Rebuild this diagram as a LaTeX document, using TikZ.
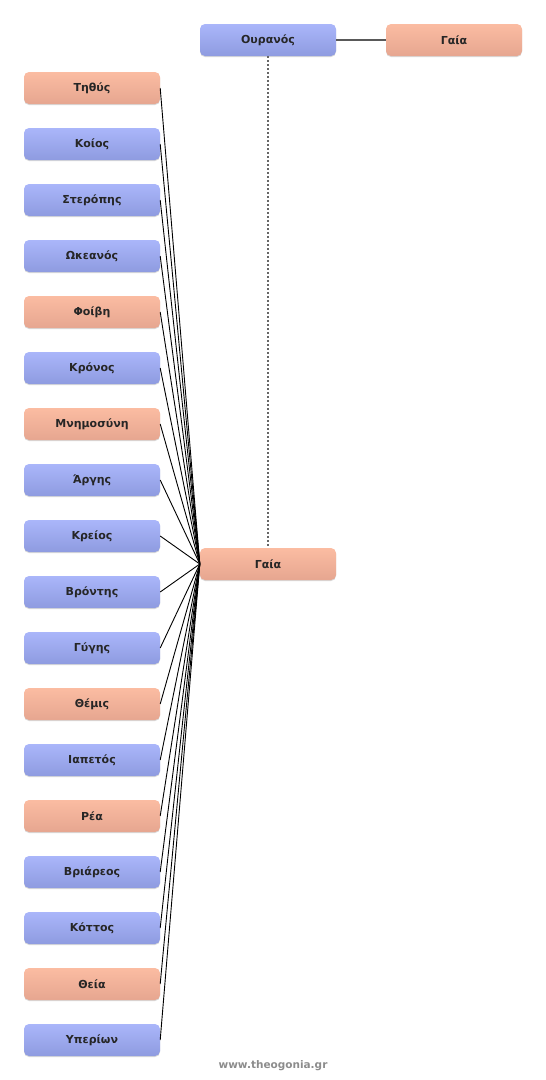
\documentclass[tikz,border=0pt]{standalone}
\usepackage{fontspec}
\setmainfont{DejaVu Sans}
\usetikzlibrary{shadows}
\definecolor{btop}{HTML}{AAB6FA}
\definecolor{bbot}{HTML}{8E9BE0}
\definecolor{otop}{HTML}{FBBCA2}
\definecolor{obot}{HTML}{E6A690}
\tikzset{
  person/.style={rounded corners=5pt, minimum width=136pt, minimum height=32pt, inner sep=0pt,
    font=\bfseries\fontsize{11}{13}\selectfont, text=black!85,
    drop shadow={shadow xshift=0pt, shadow yshift=-1pt, opacity=0.25, fill=black!60}},
  male/.style={person, top color=btop, bottom color=bbot},
  female/.style={person, top color=otop, bottom color=obot},
  kid/.style={draw=black, line width=0.9pt},
}
\begin{document}
\begin{tikzpicture}[x=1pt, y=-1pt]
\useasboundingbox (0,0) rectangle (546,1080);
\node[male] (ouranos) at (268,40) {Ουρανός};
\node[female] (gaiatop) at (454,40) {Γαία};
\node[female] (gaia) at (268,564) {Γαία};
\draw[black!65, line width=1.2pt] (ouranos.east) -- (gaiatop.west);
\draw[black!60, line width=1.4pt, dash pattern=on 2pt off 2pt] (ouranos.south) -- (gaia.north);
\foreach \name/\txt/\sty [count=\i from 0] in {
  c0/Τηθύς/female, c1/Κοίος/male, c2/Στερόπης/male, c3/Ωκεανός/male,
  c4/Φοίβη/female, c5/Κρόνος/male, c6/Μνημοσύνη/female, c7/Άργης/male,
  c8/Κρείος/male, c9/Βρόντης/male, c10/Γύγης/male, c11/Θέμις/female,
  c12/Ιαπετός/male, c13/Ρέα/female, c14/Βριάρεος/male, c15/Κόττος/male,
  c16/Θεία/female, c17/Υπερίων/male}{
  \node[\sty] (\name) at (92,88+56*\i) {\txt};
  \draw[kid] (\name.east) -- (gaia.west);
}
\node[font=\bfseries\fontsize{10.5}{12}\selectfont, text=black!45] (wm) at (273,1066) {www.theogonia.gr};
\end{tikzpicture}
\end{document}
